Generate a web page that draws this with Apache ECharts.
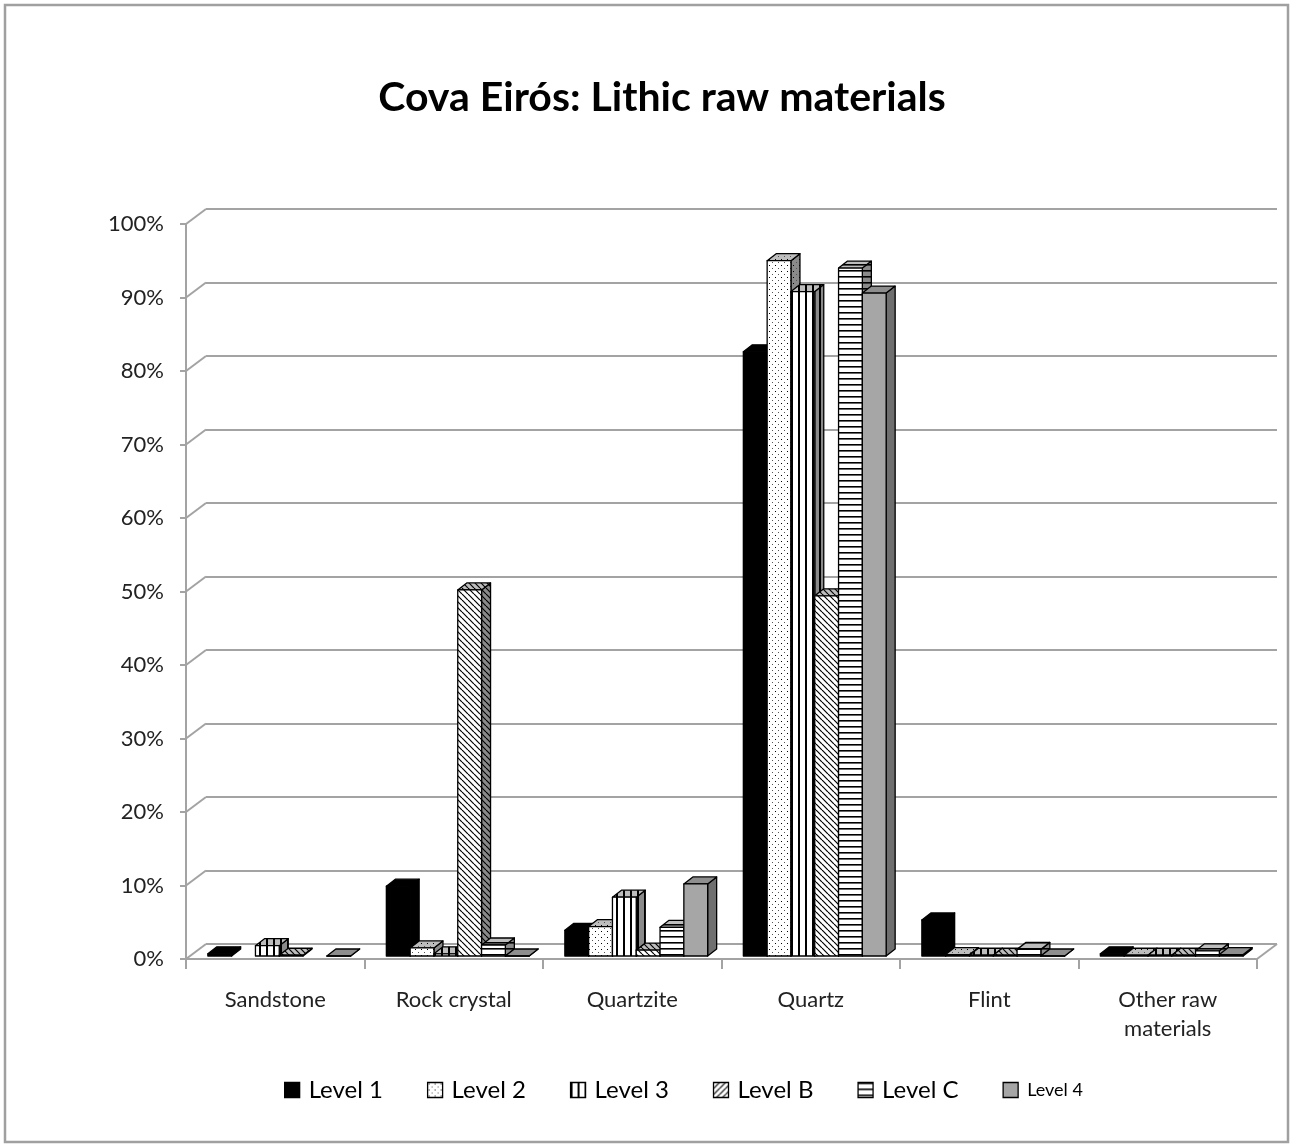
<!DOCTYPE html>
<html><head><meta charset="utf-8">
<script src="https://cdn.jsdelivr.net/npm/echarts@6/dist/echarts.min.js"></script>
<style>html,body{margin:0;padding:0;background:#fff}#c{width:1290px;height:1147px}</style>
</head><body><div id="c"></div>
<script>
const categories = ['Sandstone', 'Rock crystal', 'Quartzite', 'Quartz', 'Flint', 'Other raw\nmaterials'];
const levelNames = ['Level 1', 'Level 2', 'Level 3', 'Level B', 'Level C', 'Level 4'];
const level1 = [0.3, 9.5, 3.5, 82.2, 4.9, 0.3];
const level2 = [null, 1.1, 4.0, 94.6, 0.2, 0.1];
const level3 = [1.4, 0.3, 8.0, 90.4, 0.1, 0.1];
const levelB = [0.1, 49.8, 0.8, 49.0, 0.1, 0.1];
const levelC = [null, 1.5, 3.9, 93.6, 0.9, 0.7];
const level4 = [0.0, 0.0, 9.8, 90.2, 0.0, 0.2];
const yTicks = [0, 10, 20, 30, 40, 50, 60, 70, 80, 90, 100];

const levels = [level1, level2, level3, levelB, levelC, level4];
const FONT = 'Lato';
const GRID_COLOR = '#a3a3a3';
const WALL_DX = 20, WALL_DY = -15;
const OFF_X = 4, OFF_Y = -3;
const DEPTH_X = 9, DEPTH_Y = -7;

function pattern(kind, bg) {
  const c = document.createElement('canvas');
  let w = 6, h = 6;
  if (kind === 'dots') { w = 6; h = 6; }
  if (kind === 'vlines') { w = 7; h = 4; }
  if (kind === 'hlines') { w = 4; h = 6; }
  c.width = w; c.height = h;
  const g = c.getContext('2d');
  g.fillStyle = bg; g.fillRect(0, 0, w, h);
  g.fillStyle = '#000'; g.strokeStyle = '#000';
  if (kind === 'dots') {
    g.fillRect(1, 1, 1, 1);
    g.fillStyle = '#555';
    g.fillRect(4, 4, 1, 1);
  } else if (kind === 'vlines') {
    g.fillRect(0, 0, 2, h);
  } else if (kind === 'hlines') {
    g.fillRect(0, 0, w, 1.6);
  } else if (kind === 'back') {
    g.lineWidth = 1.2;
    for (let k = -1; k <= 1; k++) { g.beginPath(); g.moveTo(k * w, 0); g.lineTo(k * w + w, h); g.stroke(); }
  } else if (kind === 'fwd') {
    g.lineWidth = 1.2;
    for (let k = -1; k <= 1; k++) { g.beginPath(); g.moveTo(k * w, h); g.lineTo(k * w + w, 0); g.stroke(); }
  }
  return { image: c, repeat: 'repeat' };
}

const faceStyles = [
  { front: '#000', top: '#000', side: '#000' },
  { front: pattern('dots', '#fff'), top: pattern('dots', '#bdbdbd'), side: pattern('dots', '#8a8a8a') },
  { front: pattern('vlines', '#fff'), top: pattern('vlines', '#bdbdbd'), side: pattern('vlines', '#8a8a8a') },
  { front: pattern('back', '#fff'), top: pattern('back', '#bdbdbd'), side: pattern('back', '#8a8a8a') },
  { front: pattern('hlines', '#fff'), top: pattern('hlines', '#bdbdbd'), side: pattern('hlines', '#8a8a8a') },
  { front: '#a6a6a6', top: '#8e8e8e', side: '#6f6f6f' }
];
const legendFills = ['#000', pattern('dots', '#fff'), pattern('vlines', '#fff'), pattern('fwd', '#fff'), pattern('hlines', '#fff'), '#a6a6a6'];

function barRenderer(li) {
  const st = faceStyles[li];
  return function (params, api) {
    const cat = api.value(0), v = api.value(1);
    if (v == null || isNaN(v)) return;
    const base = api.coord([cat, 0]);
    const top = api.coord([cat, v]);
    const band = api.size([1, 0])[0];
    const w = band * 0.8 / 6;
    const x0 = base[0] - band * 0.4 + li * w + OFF_X;
    const yb = base[1] + OFF_Y, yt = top[1] + OFF_Y;
    const dx = DEPTH_X, dy = DEPTH_Y;
    const line = { stroke: '#000', lineWidth: 1.3, lineJoin: 'round' };
    return {
      type: 'group',
      children: [
        { type: 'polygon', shape: { points: [[x0 + w, yb], [x0 + w + dx, yb + dy], [x0 + w + dx, yt + dy], [x0 + w, yt]] }, style: Object.assign({ fill: st.side }, line) },
        { type: 'polygon', shape: { points: [[x0, yt], [x0 + w, yt], [x0 + w + dx, yt + dy], [x0 + dx, yt + dy]] }, style: Object.assign({ fill: st.top }, line) },
        { type: 'rect', shape: { x: x0, y: yt, width: w, height: yb - yt }, style: Object.assign({ fill: st.front }, line) }
      ]
    };
  };
}

const barSeries = levels.map((vals, li) => ({
  type: 'custom',
  name: levelNames[li],
  xAxisIndex: 0, yAxisIndex: 0,
  data: vals.map((v, i) => [i, v]),
  encode: { x: 0, y: 1 },
  renderItem: barRenderer(li),
  clip: false,
  z: 10 + li,
  itemStyle: { color: '#000' }
}));

const wallSeries = {
  type: 'custom',
  name: 'walls',
  xAxisIndex: 0, yAxisIndex: 0,
  data: yTicks.map(v => [0, v]),
  silent: true,
  clip: false,
  z: 3,
  renderItem: function (params, api) {
    const p = api.coord([0, api.value(1)]);
    const band = api.size([1, 0])[0];
    const lx = p[0] - band / 2;
    const children = [
      { type: 'line', shape: { x1: lx, y1: p[1], x2: lx + WALL_DX, y2: p[1] + WALL_DY }, style: { stroke: GRID_COLOR, lineWidth: 2 } }
    ];
    if (api.value(1) === 0) {
      const r = api.coord([categories.length - 1, 0]);
      const rx = r[0] + band / 2;
      children.push({ type: 'line', shape: { x1: rx, y1: r[1], x2: rx + WALL_DX, y2: r[1] + WALL_DY }, style: { stroke: GRID_COLOR, lineWidth: 2 } });
    }
    return { type: 'group', children: children };
  }
};

const chart = echarts.init(document.getElementById('c'), null, { renderer: 'canvas' });
chart.setOption({
  backgroundColor: '#fff',
  animation: false,
  textStyle: { fontFamily: FONT },
  title: {
    text: 'Cova Eirós: Lithic raw materials',
    left: 657, top: 72, textAlign: 'center',
    textStyle: { fontFamily: FONT, fontWeight: 'bold', fontSize: 41, color: '#000' }
  },
  graphic: [{
    type: 'rect', shape: { x: 5, y: 5, width: 1283, height: 1137 },
    style: { fill: 'none', stroke: '#a0a0a0', lineWidth: 2.5 }, z: -10, silent: true
  }],
  legend: {
    left: 279, top: 1073,
    itemWidth: 15, itemHeight: 15, itemGap: 44,
    textStyle: { fontFamily: FONT, fontSize: 24, color: '#000', padding: [0, 0, 0, 4] },
    data: levelNames.map((n, i) => ({
      name: n, icon: 'rect',
      itemStyle: { color: legendFills[i], borderColor: '#000', borderWidth: 1.3 },
      textStyle: i === 5 ? { fontSize: 18, color: '#000' } : undefined
    }))
  },
  grid: [
    { left: 186, right: 33, top: 224, bottom: 188 },
    { left: 206, right: 13, top: 209, bottom: 203 }
  ],
  xAxis: [{
    gridIndex: 0, type: 'category', data: categories,
    axisLine: { lineStyle: { color: GRID_COLOR, width: 2 } },
    axisTick: { show: true, length: 10, lineStyle: { color: GRID_COLOR, width: 2 } },
    axisLabel: { margin: 26, fontFamily: FONT, fontSize: 22, color: '#222', lineHeight: 29, interval: 0 },
    splitLine: { show: false }
  }, {
    gridIndex: 1, type: 'category', data: categories, show: false
  }],
  yAxis: [{
    gridIndex: 0, type: 'value', min: 0, max: 100, interval: 10,
    axisLine: { show: true, lineStyle: { color: GRID_COLOR, width: 2 } },
    axisTick: { show: true, length: 6, lineStyle: { color: GRID_COLOR, width: 2 } },
    axisLabel: { margin: 22, formatter: '{value}%', fontFamily: FONT, fontSize: 22, color: '#222' },
    splitLine: { show: false }
  }, {
    gridIndex: 1, type: 'value', min: 0, max: 100, interval: 10,
    axisLine: { show: false }, axisTick: { show: false }, axisLabel: { show: false },
    splitLine: { show: true, lineStyle: { color: GRID_COLOR, width: 2 } }
  }],
  series: [wallSeries].concat(barSeries)
});
</script>
</body></html>
